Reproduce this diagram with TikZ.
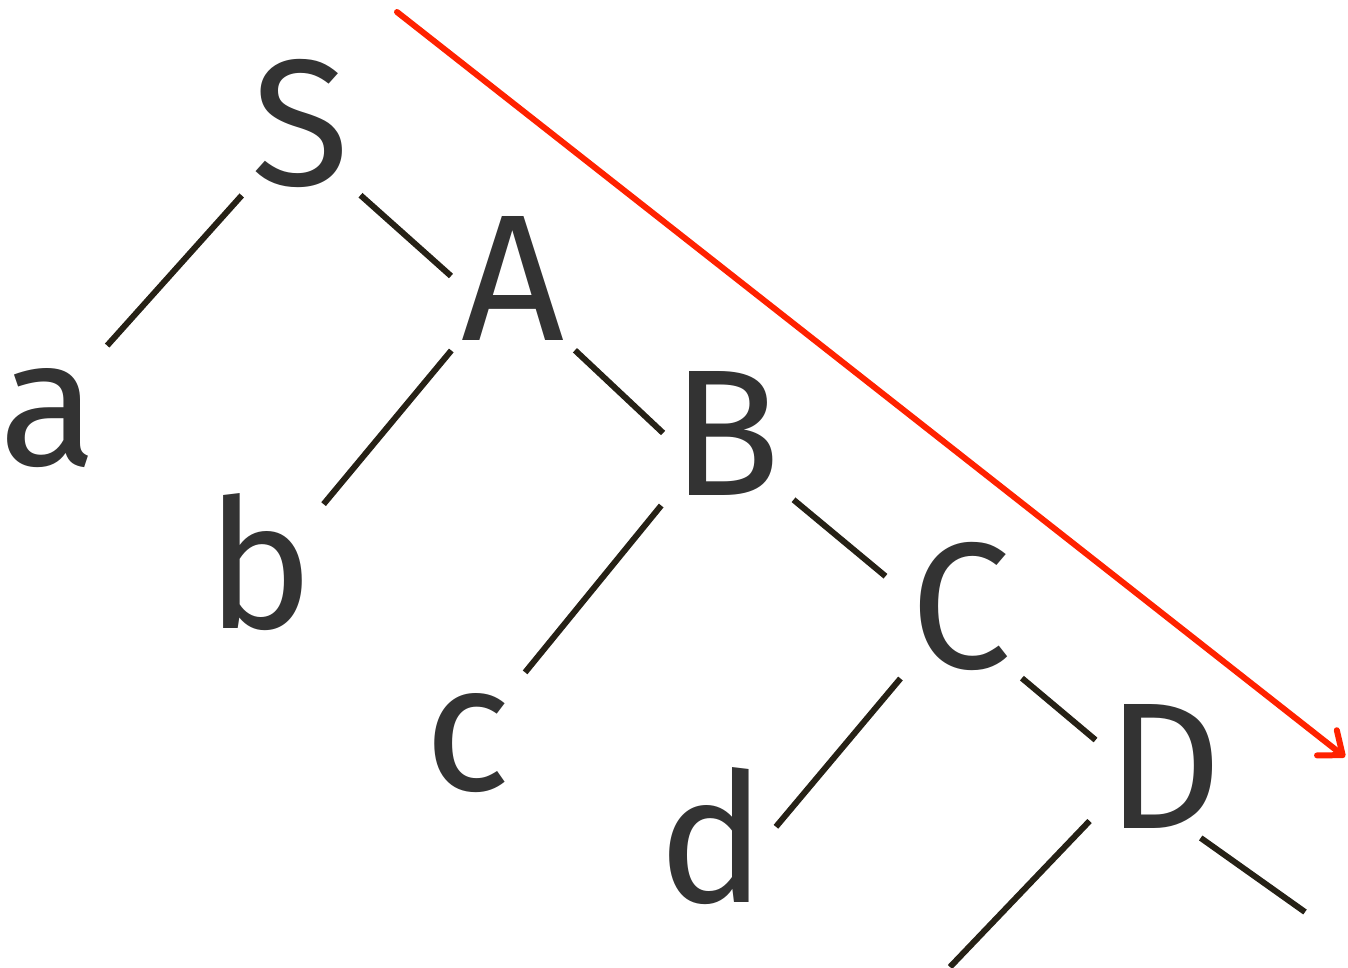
\documentclass[tikz,border=0pt]{standalone}
\usepackage{fontspec}
\setmainfont{Fira Sans}
\usetikzlibrary{arrows.meta}
\definecolor{branchcol}{RGB}{38,33,22}
\definecolor{arrowred}{RGB}{255,34,0}

\begin{document}
\begin{tikzpicture}[x=1pt, y=-1pt,
	every node/.style={font=\fontsize{180}{180}\selectfont, text=black!80, inner sep=8pt,
		text height=124pt, text depth=0pt, minimum width=110pt, anchor=base},
	branch/.style={branchcol, line width=6pt, shorten <=3pt, shorten >=3pt}]
	\useasboundingbox (0,0) rectangle (1348,967);
	% spine of the tree
	\node (S) at (301,185) {S};
	\node (A) at (513,340) {A};
	\node (B) at (726,495) {B};
	\node (C) at (961,668) {C};
	\node (D) at (1164,828) {D};
	% leaves
	\node (a) at (48,465) {a};
	\node (b) at (260,628) {b};
	\node (c) at (468,790) {c};
	\node (d) at (712,902) {d};
	\coordinate (Dl) at (950,967);
	\coordinate (Dr) at (1305,912);
	\draw[branch] (S.south west) -- (a.44);
	\draw[branch] (S.south east) -- (A.west);
	\draw[branch] (A.south west) -- (b.44);
	\draw[branch, shorten >=0pt] (A.south east) -- (B.west);
	\draw[branch] (B.south west) -- (c.44);
	\draw[branch, shorten <=6pt, shorten >=22pt] (B.-45) -- (C.165);
	\draw[branch] (C.south west) -- (d.10);
	\draw[branch] (C.south east) -- (D.160);
	\draw[branch, shorten <=12pt, shorten >=0pt] (D.-145) -- (Dl);
	\draw[branch, shorten <=3pt, shorten >=0pt] (D.-64) -- (Dr);
	% direction of the walk
	\coordinate (top) at (397,12);
	\coordinate (tip) at (1345,757);
	\draw[arrowred, line width=6pt, line cap=round,
		-{Straight Barb[length=20pt, width=32pt, round]}] (top) -- (tip);
\end{tikzpicture}
\end{document}
